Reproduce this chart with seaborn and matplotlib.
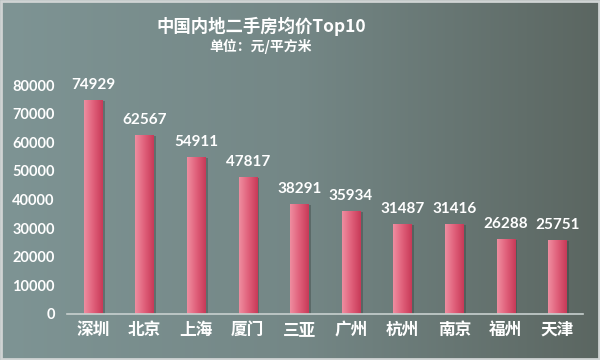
import numpy as np
import pandas as pd
import seaborn as sns
import matplotlib.pyplot as plt
from matplotlib.colors import LinearSegmentedColormap
from matplotlib.patches import Rectangle

# data
cities = ['深圳', '北京', '上海', '厦门', '三亚', '广州', '杭州', '南京', '福州', '天津']
prices = [74929, 62567, 54911, 47817, 38291, 35934, 31487, 31416, 26288, 25751]
yticks = [0, 10000, 20000, 30000, 40000, 50000, 60000, 70000, 80000]

title = '中国内地二手房均价Top10'
subtitle = '单位：元/平方米'

sns.set_theme(style='white')
plt.rcParams['font.family'] = ['Noto Sans CJK SC', 'DejaVu Sans']

df = pd.DataFrame({'city': cities, 'price': prices})

fig = plt.figure(figsize=(6, 3.6), dpi=100)

# background gradient (lighter left, darker right)
bg = fig.add_axes([0, 0, 1, 1], zorder=0)
bg_cmap = LinearSegmentedColormap.from_list('bg', ['#7e9494', '#748786', '#5b6661'])
bg.imshow(np.linspace(0, 1, 256).reshape(1, -1), aspect='auto', cmap=bg_cmap,
          extent=[0, 1, 0, 1])
bg.add_patch(Rectangle((0.002, 0.003), 0.996, 0.994, fill=False,
                       edgecolor='#d0d4d4', linewidth=2, transform=bg.transAxes))
bg.set_xlim(0, 1)
bg.set_ylim(0, 1)
bg.axis('off')

ax = fig.add_axes([0.112, 0.128, 0.86, 0.675], zorder=1)
ax.set_facecolor('none')

sns.barplot(data=df, x='city', y='price', ax=ax, width=0.36, color='#dd6880',
            saturation=1, edgecolor='none')

bar_cmap = LinearSegmentedColormap.from_list('bar', ['#ef8da0', '#e0607a', '#c83a58'])
grad = np.linspace(0, 1, 64).reshape(1, -1)
for p in ax.patches:
    x0, w, h = p.get_x(), p.get_width(), p.get_height()
    # soft shadow on the right side
    ax.add_patch(Rectangle((x0 + w * 0.12, 0), w, h - 300, facecolor='#2f3835',
                           alpha=0.35, edgecolor='none', zorder=1))
    im = ax.imshow(grad, aspect='auto', cmap=bar_cmap, extent=[x0, x0 + w, 0, h],
                   zorder=3)
    im.set_clip_path(p)
    p.set_zorder(2)
    ax.text(x0 + w / 2, h + 2800, f'{int(h)}', ha='center', va='bottom',
            color='white', fontsize=11, fontweight='bold',
            family=['Lato', 'DejaVu Sans'], zorder=4)

ax.set_xlim(-0.5, len(cities) - 0.5)
ax.set_ylim(0, 85000)
ax.set_yticks(yticks)
ax.set_yticklabels([str(t) for t in yticks], color='white', fontsize=10.5,
                   fontweight='bold', family=['Lato', 'DejaVu Sans'])
ax.tick_params(axis='x', colors='white', labelsize=12, length=0, pad=5)
ax.tick_params(axis='y', length=0, pad=9)
for lbl in ax.get_xticklabels():
    lbl.set_fontweight('bold')
ax.set_xlabel('')
ax.set_ylabel('')
for side in ['top', 'right', 'left']:
    ax.spines[side].set_visible(False)
ax.spines['bottom'].set_color('#c8d0cf')
ax.spines['bottom'].set_linewidth(1.2)
ax.spines['bottom'].set_zorder(5)

fig.text(0.435, 0.928, title, ha='center', va='center', color='white',
         fontsize=12.5, fontweight='bold')
fig.text(0.435, 0.872, subtitle, ha='center', va='center', color='white',
         fontsize=10, fontweight='bold')

fig.savefig('out.png', dpi=100)
